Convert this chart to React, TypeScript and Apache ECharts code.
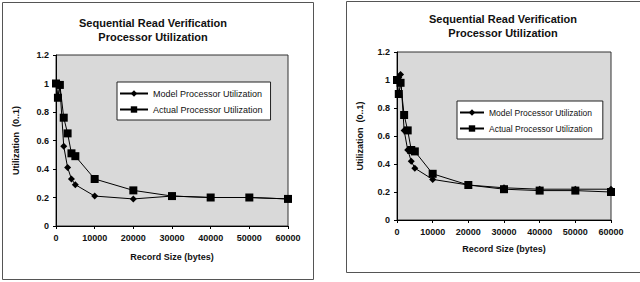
import React, { useEffect, useRef } from "react";
import * as echarts from "echarts";

const recordSizes = [0, 500, 1000, 2000, 3000, 4000, 5000, 10000, 20000, 30000, 40000, 50000, 60000];
const leftModel = [1.0, 0.9, 0.98, 0.56, 0.41, 0.33, 0.29, 0.21, 0.19, 0.21, 0.2, 0.2, 0.19];
const leftActual = [1.0, 0.9, 0.99, 0.76, 0.65, 0.51, 0.49, 0.33, 0.25, 0.21, 0.2, 0.2, 0.19];
const rightModel = [1.0, 1.02, 1.04, 0.64, 0.5, 0.42, 0.37, 0.29, 0.25, 0.23, 0.22, 0.22, 0.22];
const rightActual = [1.0, 0.9, 0.98, 0.75, 0.64, 0.5, 0.49, 0.33, 0.25, 0.22, 0.21, 0.21, 0.2];

const titleLines = ["Sequential Read Verification", "Processor Utilization"];
const modelName = "Model Processor Utilization";
const actualName = "Actual Processor Utilization";
const xName = "Record Size (bytes)";
const yName = "Utilization  (0..1)";

const FONT = "Arial, 'Liberation Sans', sans-serif";

const pairs = (ys: number[]) => recordSizes.map((x, i) => [x, ys[i]]);

function xAxis(gridIndex: number, gap: number) {
  return {
    type: "value",
    gridIndex,
    min: 0,
    max: 60000,
    interval: 10000,
    name: xName,
    nameLocation: "middle",
    nameGap: gap,
    nameTextStyle: { fontFamily: FONT, fontSize: 9, fontWeight: "bold", color: "#111" },
    axisLine: { show: true, lineStyle: { color: "#000", width: 1 } },
    axisTick: { show: true, length: 3, lineStyle: { color: "#000" } },
    axisLabel: {
      fontFamily: FONT,
      fontSize: 9,
      fontWeight: "bold",
      color: "#111",
      margin: 7,
      formatter: (v: number) => String(v),
    },
    splitLine: { show: false },
  };
}

function yAxis(gridIndex: number, gap: number) {
  return {
    type: "value",
    gridIndex,
    min: 0,
    max: 1.2,
    interval: 0.2,
    name: yName,
    nameLocation: "middle",
    nameGap: gap,
    nameRotate: 90,
    nameTextStyle: { fontFamily: FONT, fontSize: 9, fontWeight: "bold", color: "#111" },
    axisLine: { show: true, lineStyle: { color: "#000", width: 1 } },
    axisTick: { show: true, length: 3, lineStyle: { color: "#000" } },
    axisLabel: {
      fontFamily: FONT,
      fontSize: 9,
      fontWeight: "bold",
      color: "#111",
      margin: 7,
      formatter: (v: number) => String(Math.round(v * 10) / 10),
    },
    splitLine: { show: false },
  };
}

function series(name: string, ys: number[], idx: number, symbol: string, size: number) {
  return {
    type: "line",
    name,
    xAxisIndex: idx,
    yAxisIndex: idx,
    data: pairs(ys),
    symbol,
    symbolSize: size,
    showAllSymbol: true,
    lineStyle: { color: "#000", width: 1 },
    itemStyle: { color: "#000" },
    emphasis: { disabled: true },
  };
}

function legend(left: number, top: number, names: string[], fontSize: number, itemWidth: number) {
  return {
    show: true,
    left,
    top,
    orient: "vertical",
    data: names,
    backgroundColor: "#fff",
    borderColor: "#222",
    borderWidth: 1,
    padding: [7, 8, 6, 2],
    itemWidth,
    itemHeight: 8,
    itemGap: 7,
    textStyle: { fontFamily: FONT, fontSize, color: "#111" },
  };
}

export default function App() {
  const ref = useRef<HTMLDivElement>(null);
  useEffect(() => {
    if (!ref.current) return;
    const chart = echarts.init(ref.current, undefined, { renderer: "svg" });
    const titleStyle = { fontFamily: FONT, fontSize: 11, fontWeight: "bold", color: "#111", lineHeight: 14 };
    chart.setOption({
      animation: false,
      backgroundColor: "#fff",
      title: [
        { text: titleLines.join("\n"), left: 153, top: 16, padding: 0, textAlign: "center", textStyle: titleStyle },
        { text: titleLines.join("\n"), left: 503, top: 12, padding: 0, textAlign: "center", textStyle: titleStyle },
      ],
      grid: [
        { left: 56, top: 55, width: 232, height: 171, show: true, backgroundColor: "#d9d9d9", borderColor: "#333", borderWidth: 1 },
        { left: 397, top: 52, width: 214, height: 168, show: true, backgroundColor: "#d9d9d9", borderColor: "#333", borderWidth: 1 },
      ],
      xAxis: [xAxis(0, 26), xAxis(1, 24)],
      yAxis: [yAxis(0, 36), yAxis(1, 33)],
      legend: [
        legend(117, 82, [modelName, actualName], 9, 28),
        legend(457, 101, [modelName + " ", actualName + " "], 8.5, 24),
      ],
      series: [
        series(modelName, leftModel, 0, "diamond", 7),
        series(actualName, leftActual, 0, "rect", 8),
        series(modelName + " ", rightModel, 1, "diamond", 7),
        series(actualName + " ", rightActual, 1, "rect", 8),
      ],
      graphic: [
        { type: "rect", shape: { x: 2.5, y: 2.5, width: 311, height: 277 }, style: { fill: "none", stroke: "#555", lineWidth: 1 }, silent: true },
        { type: "rect", shape: { x: 346.5, y: 1.5, width: 300, height: 271 }, style: { fill: "none", stroke: "#555", lineWidth: 1 }, silent: true },
      ],
    });
    return () => chart.dispose();
  }, []);
  return <div ref={ref} style={{ position: "fixed", left: 0, top: 0, width: 640, height: 282 }} />;
}
